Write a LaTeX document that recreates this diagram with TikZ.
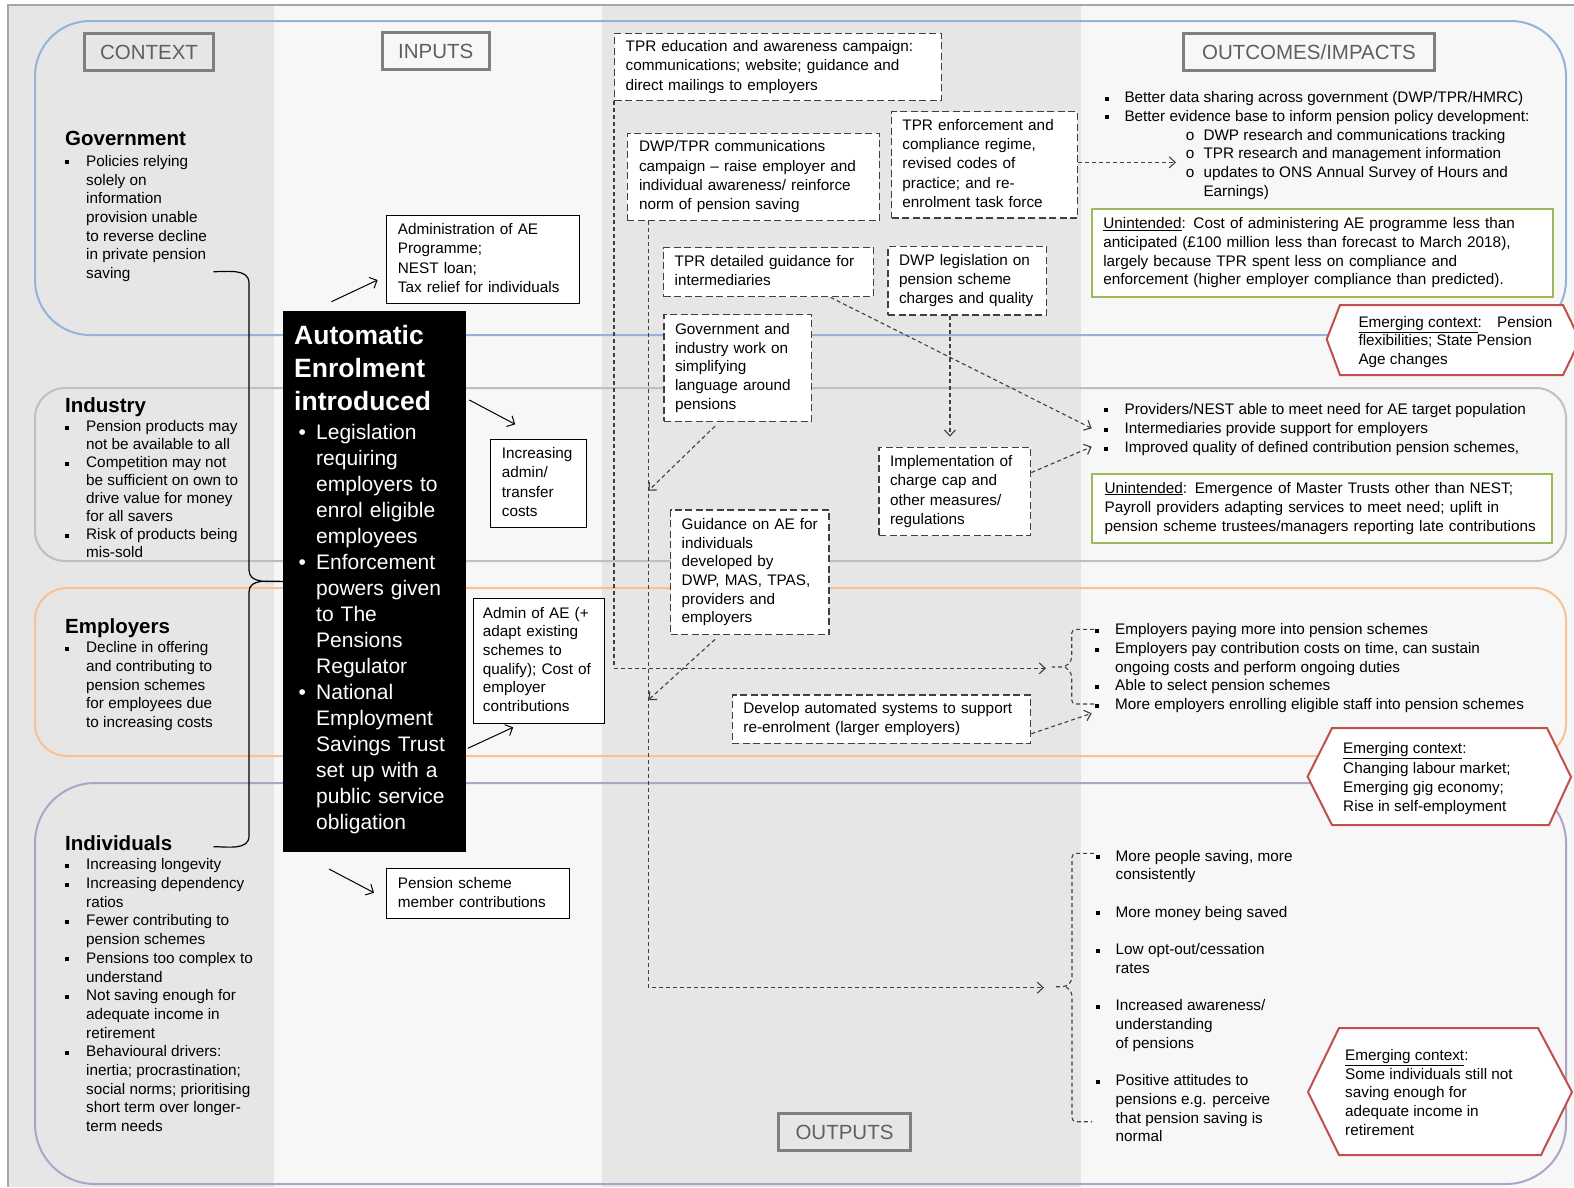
\documentclass[tikz,border=0pt]{standalone}
\usepackage{fontspec}
\setmainfont{Liberation Sans}
\usetikzlibrary{arrows.meta}

\definecolor{colgray}{RGB}{230,230,230}
\definecolor{collight}{RGB}{247,247,247}
\definecolor{framegray}{RGB}{166,166,166}
\definecolor{govblue}{RGB}{149,179,215}
\definecolor{indgray}{RGB}{191,191,191}
\definecolor{emporange}{RGB}{250,192,144}
\definecolor{indpurple}{RGB}{179,162,199}
\definecolor{unigreen}{RGB}{155,187,89}
\definecolor{emred}{RGB}{192,80,77}
\definecolor{hdrgray}{RGB}{127,127,127}
\definecolor{hdrtext}{RGB}{95,95,95}

\setlength{\parskip}{0pt}
\newcommand{\sqb}{\rule[2pt]{4pt}{4pt}}
\newcommand{\txt}{\fontsize{15.3}{18.7}\selectfont}
\newcommand{\boxtxt}{\fontsize{15.3}{19.3}\selectfont}
\newcommand{\ctxtitle}{\fontsize{20.5}{24}\selectfont\bfseries}
\newcommand{\aefont}{\fontsize{21}{26}\selectfont}
\newcommand{\aetitle}{\fontsize{26.5}{33}\selectfont\bfseries}
\newcommand{\boxlines}[1]{\begin{tabular}{@{}l@{}}#1\end{tabular}}
\newcommand{\subi}{\hspace{61.4pt}\makebox[17.6pt][l]{o}}

\tikzset{
  band/.style={line width=2pt},
  hdr/.style={draw=hdrgray, line width=3pt, text=hdrtext, font=\fontsize{20.5}{24}\selectfont, minimum height=37pt, inner sep=0pt},
  ctx/.style={anchor=north west, inner sep=0pt, font=\txt},
  inbox/.style={anchor=north west, draw=black, line width=1pt, fill=white, inner ysep=0pt, align=left, font=\boxtxt},
  outbox/.style={anchor=north west, draw=black!75, line width=1.4pt, dash pattern=on 7pt off 3.5pt, fill=white, inner ysep=0pt, align=left, font=\boxtxt},
  unibox/.style={anchor=north west, draw=unigreen, line width=2pt, fill=white, inner ysep=0pt, align=left, font=\txt},
  hexbox/.style={draw=emred, line width=2pt, fill=white},
  feed/.style={draw=black, line width=1pt, -{Straight Barb[length=6pt,width=12pt]}},
  flow/.style={draw=black!75, line width=1.1pt, dash pattern=on 4pt off 3pt, -{Straight Barb[length=6pt,width=11pt]}},
  link/.style={draw=black!75, line width=1.1pt, dash pattern=on 4pt off 3pt},
  brace/.style={draw=black, line width=1.2pt},
}

\begin{document}
\begin{tikzpicture}[x=1pt,y=-1pt]
  \useasboundingbox (0,0) rectangle (1574,1187);
  \fill[white] (0,0) rectangle (1574,1187);
  \fill[colgray] (8,5) rectangle (274,1187);
  \fill[collight] (274,5) rectangle (602,1187);
  \fill[colgray] (602,5) rectangle (1081,1187);
  \fill[collight] (1081,5) rectangle (1574,1187);
  \draw[framegray, line width=2pt] (8,1187) -- (8,5) -- (1574,5);

  \draw[band, govblue, rounded corners=55pt] (35,21) rectangle (1566,335);
  \draw[band, indgray, rounded corners=30pt] (35,388) rectangle (1566,561);
  \draw[band, emporange, rounded corners=32pt] (35,588) rectangle (1566,756);
  \draw[band, indpurple, rounded corners=60pt] (35,783) rectangle (1566,1184);

  \node[hdr, minimum width=129pt] (ctxhdr) at (149,52) {CONTEXT};
  \node[hdr, minimum width=107.5pt] (inhdr) at (435.8,51) {INPUTS};
  \node[hdr, minimum width=251pt] (outchdr) at (1309,52) {OUTCOMES/IMPACTS};
  \node[hdr, minimum width=132pt] (outphdr) at (844.5,1132) {OUTPUTS};

  \node[ctx] (govctx) at (65,131.2) {\begin{tabular}{@{}p{21pt}@{}l@{}}
    \multicolumn{2}{@{}l@{}}{\ctxtitle Government}\\[2pt]
    \sqb & Policies relying\\ & solely on\\ & information\\ & provision unable\\
    & to reverse decline\\ & in private pension\\ & saving
  \end{tabular}};
  \node[ctx, font=\fontsize{15.3}{18}\selectfont] (indctx) at (65,397.4) {\begin{tabular}{@{}p{21pt}@{}l@{}}
    \multicolumn{2}{@{}l@{}}{\ctxtitle Industry}\\[1.5pt]
    \sqb & Pension products may\\ & not be available to all\\
    \sqb & Competition may not\\ & be sufficient on own to\\ & drive value for money\\ & for all savers\\
    \sqb & Risk of products being\\ & mis-sold
  \end{tabular}};
  \node[ctx] (empctx) at (65,618) {\begin{tabular}{@{}p{21pt}@{}l@{}}
    \multicolumn{2}{@{}l@{}}{\ctxtitle Employers}\\[1pt]
    \sqb & Decline in offering\\ & and contributing to\\ & pension schemes\\ & for employees due\\ & to increasing costs
  \end{tabular}};
  \node[ctx] (indivctx) at (65,835.1) {\begin{tabular}{@{}p{21pt}@{}l@{}}
    \multicolumn{2}{@{}l@{}}{\ctxtitle Individuals}\\[1pt]
    \sqb & Increasing longevity\\
    \sqb & Increasing dependency\\ & ratios\\
    \sqb & Fewer contributing to\\ & pension schemes\\
    \sqb & Pensions too complex to\\ & understand\\
    \sqb & Not saving enough for\\ & adequate income in\\ & retirement\\
    \sqb & Behavioural drivers:\\ & inertia; procrastination;\\ & social norms; prioritising\\ & short term over longer-\\ & term needs
  \end{tabular}};

  \node[anchor=north west, fill=black, text=white, text width=160.4pt, inner xsep=11pt, inner ysep=0pt,
        minimum height=541pt, align=left, font=\aefont] (aebox) at (283,310.7) {\begin{tabular}{@{\hspace{4.3pt}}p{17.7pt}@{}l@{}}
    \multicolumn{2}{@{}l@{}}{\aetitle Automatic}\\[6pt]
    \multicolumn{2}{@{}l@{}}{\aetitle Enrolment}\\[6pt]
    \multicolumn{2}{@{}l@{}}{\aetitle introduced}\\[3pt]
    \textbullet & Legislation\\ & requiring\\ & employers to\\ & enrol eligible\\ & employees\\
    \textbullet & Enforcement\\ & powers given\\ & to The\\ & Pensions\\ & Regulator\\
    \textbullet & National\\ & Employment\\ & Savings Trust\\ & set up with a\\ & public service\\ & obligation
  \end{tabular}};

  \draw[brace] (213.5,271.7) to[out=0,in=90] (249,283) -- (249,570) to[out=-90,in=180] (aebox.west)
    to[out=180,in=90] (249,592) -- (249,836) to[out=-90,in=0] (213.5,846.7);

  \node[inbox, text width=170pt, inner xsep=11.9pt, minimum height=88.3pt] (adminbox) at (385.5,215)
    {\boxlines{Administration of AE\\Programme;\\NEST loan;\\Tax relief for individuals}};
  \node[inbox, text width=73.9pt, inner xsep=11.1pt, minimum height=88.3pt] (incbox) at (490.3,439)
    {\boxlines{Increasing\\admin/\\transfer\\costs}};
  \node[inbox, text width=111.9pt, inner xsep=9.9pt, minimum height=125.6pt, font=\txt] (adminae) at (472.5,597.7)
    {\boxlines{Admin of AE (+\\adapt existing\\schemes to\\qualify); Cost of\\employer\\contributions}};
  \node[inbox, text width=159.3pt, inner xsep=11.9pt, minimum height=50pt] (pensbox) at (385.5,868.3)
    {\boxlines{Pension scheme\\member contributions}};

  \coordinate (aeup) at (331.4,301.7);
  \coordinate (adminin) at (377.6,280);
  \coordinate (aeright) at (469.3,400);
  \coordinate (incin) at (515.2,424.3);
  \coordinate (aelow) at (467.8,748.3);
  \coordinate (adminaein) at (513.2,727.3);
  \coordinate (aefoot) at (329,869);
  \coordinate (pensin) at (374,892.7);
  \draw[feed] (aeup) -- (adminin);
  \draw[feed] (aeright) -- (incin);
  \draw[feed] (aelow) -- (adminaein);
  \draw[feed] (aefoot) -- (pensin);

  \node[outbox, text width=304.7pt, inner xsep=11pt, minimum height=67.3pt] (tpredu) at (614,32.7)
    {\boxlines{TPR education and awareness campaign:\\communications; website; guidance and\\direct mailings to employers}};
  \node[outbox, text width=228.8pt, inner xsep=11.6pt, minimum height=87.3pt] (dwpcomm) at (626.7,132.7)
    {\boxlines{DWP/TPR communications\\campaign \textendash{} raise employer and\\individual awareness/ reinforce\\norm of pension saving}};
  \node[outbox, text width=164.3pt, inner xsep=10.7pt, minimum height=106.3pt] (tprenf) at (891,111)
    {\boxlines{TPR enforcement and\\compliance regime,\\revised codes of\\practice; and re-\\enrolment task force}};
  \node[outbox, text width=187.7pt, inner xsep=11pt, minimum height=49pt] (tprguid) at (663,247)
    {\boxlines{TPR detailed guidance for\\intermediaries}};
  \node[outbox, text width=136.7pt, inner xsep=11pt, minimum height=68.6pt] (dwpleg) at (887.3,245.7)
    {\boxlines{DWP legislation on\\pension scheme\\charges and quality}};
  \node[outbox, text width=125.4pt, inner xsep=11pt, minimum height=106.7pt, font=\txt] (govind) at (663.3,314)
    {\boxlines{Government and\\industry work on\\simplifying\\language around\\pensions}};
  \node[outbox, text width=129.7pt, inner xsep=11pt, minimum height=88.3pt] (implem) at (878.3,446.7)
    {\boxlines{Implementation of\\charge cap and\\other measures/\\regulations}};
  \node[outbox, text width=136.3pt, inner xsep=11pt, minimum height=124.7pt, font=\txt] (guidae) at (670,509.3)
    {\boxlines{Guidance on AE for\\individuals\\developed by\\DWP, MAS, TPAS,\\providers and\\employers}};
  \node[outbox, text width=276.3pt, inner xsep=11pt, minimum height=48.4pt] (devauto) at (731.7,694.3)
    {\boxlines{Develop automated systems to support\\re-enrolment (larger employers)}};

  \node[ctx] (govout) at (1105,89.5) {\begin{tabular}{@{}p{19.3pt}@{}l@{}}
    \sqb & Better data sharing across government (DWP/TPR/HMRC)\\
    \sqb & Better evidence base to inform pension policy development:\\
    & \subi DWP research and communications tracking\\
    & \subi TPR research and management information\\
    & \subi updates to ONS Annual Survey of Hours and\\
    & \hspace{79pt}Earnings)
  \end{tabular}};
  \node[unibox, text width=437.8pt, inner xsep=11.6pt, minimum height=87.7pt] (uni1) at (1090.7,208.3)
    {\boxlines{\underline{Unintended}: Cost of administering AE programme less than\\anticipated (£100 million less than forecast to March 2018),\\largely because TPR spent less on compliance and\\enforcement (higher employer compliance than predicted).}};
  \draw[hexbox] (1326.7,339.3) -- (1340,305) -- (1563,305) -- (1580,340) -- (1563,375) -- (1340,375) -- cycle;
  \node[ctx] (hexpen) at (1358.3,313.9)
    {\boxlines{\underline{Emerging context}:\quad Pension\\flexibilities; State Pension\\Age changes}};

  \node[ctx, font=\boxtxt] (indout) at (1103.9,400.6) {\begin{tabular}{@{}p{20.5pt}@{}l@{}}
    \sqb & Providers/NEST able to meet need for AE target population\\
    \sqb & Intermediaries provide support for employers\\
    \sqb & Improved quality of defined contribution pension schemes,
  \end{tabular}};
  \node[unibox, text width=434.9pt, inner xsep=12.9pt, minimum height=69.6pt, font=\boxtxt] (uni2) at (1090.7,472.7)
    {\boxlines{\underline{Unintended}: Emergence of Master Trusts other than NEST;\\Payroll providers adapting services to meet need; uplift in\\pension scheme trustees/managers reporting late contributions}};

  \node[ctx] (empout) at (1095.2,621.5) {\begin{tabular}{@{}p{19.8pt}@{}l@{}}
    \sqb & Employers paying more into pension schemes\\
    \sqb & Employers pay contribution costs on time, can sustain\\
    & ongoing costs and perform ongoing duties\\
    \sqb & Able to select pension schemes\\
    \sqb & More employers enrolling eligible staff into pension schemes
  \end{tabular}};
  \draw[hexbox] (1307.6,776.7) -- (1332,728) -- (1547,728) -- (1571,777) -- (1549,825) -- (1332,825) -- cycle;
  \node[ctx, font=\boxtxt] (hexlab) at (1343,740.2)
    {\boxlines{\underline{Emerging context}:\\Changing labour market;\\Emerging gig economy;\\Rise in self-employment}};

  \node[ctx] (indivout) at (1095.6,847.9) {\begin{tabular}{@{}p{19.9pt}@{}l@{}}
    \sqb & More people saving, more\\ & consistently\\ &\\
    \sqb & More money being saved\\ &\\
    \sqb & Low opt-out/cessation\\ & rates\\ &\\
    \sqb & Increased awareness/\\ & understanding\\ & of pensions\\ &\\
    \sqb & Positive attitudes to\\ & pensions e.g. perceive\\ & that pension saving is\\ & normal
  \end{tabular}};
  \draw[hexbox] (1308,1092) -- (1339,1028) -- (1538,1028) -- (1572,1092) -- (1541,1155) -- (1339,1155) -- cycle;
  \node[ctx] (hexsav) at (1345,1047.2)
    {\boxlines{\underline{Emerging context}:\\Some individuals still not\\saving enough for\\adequate income in\\retirement}};

  \coordinate (empin) at (1046,668.3);
  \coordinate (indivin) at (1044,987.7);
  \coordinate (commfoot) at ([xshift=21.7pt]dwpcomm.south west);
  \coordinate (govhit) at (648.4,490.7);
  \coordinate (guidhit) at (648.4,700);
  \coordinate (datain) at (1176,162.3);
  \coordinate (interin) at (1091.7,428.3);
  \coordinate (qualin) at (1091.7,446.7);
  \coordinate (staffin) at (1091.7,713.3);

  \draw[flow] (tpredu.south west) |- (empin);
  \draw[flow] (commfoot) |- (indivin);
  \draw[flow] (tprenf.east |- datain) -- (datain);
  \draw[flow] ([xshift=62pt]tprguid.south) -- (interin);
  \draw[flow, shorten >=10pt] ([xshift=-17.4pt]dwpleg.south) -- ([xshift=-17.4pt]dwpleg.south |- implem.north);
  \draw[flow] ([yshift=19pt]implem.east) -- (qualin);
  \draw[flow] ([xshift=51.7pt,yshift=-4pt]govind.south west) -- (govhit);
  \draw[flow] ([xshift=45pt,yshift=-4pt]guidae.south west) -- (guidhit);
  \draw[flow] ([yshift=-14.5pt]devauto.east) -- (staffin);

  \draw[link, rounded corners=4pt] (1094,629.3) -- (1071.7,629.3) -- (1071.7,661) -- (1065,667) -- (1052,667);
  \draw[link, rounded corners=4pt] (1065,667) -- (1071.7,673) -- (1071.7,704) -- (1094,704);
  \draw[link, rounded corners=4pt] (1094,853.3) -- (1072,853.3) -- (1072,981) -- (1066,986.7) -- (1055,986.7);
  \draw[link, rounded corners=4pt] (1066,986.7) -- (1072,992) -- (1072,1121.7) -- (1092,1121.7);
\end{tikzpicture}
\end{document}
